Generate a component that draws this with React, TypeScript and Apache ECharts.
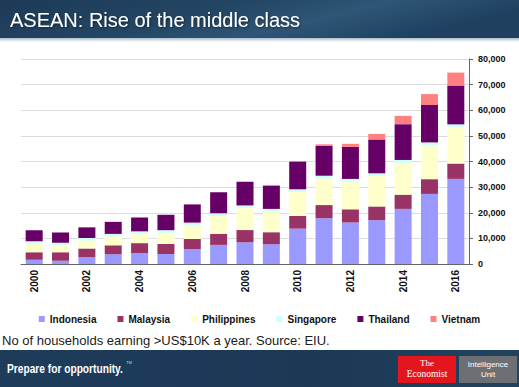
import React, { useEffect, useRef } from "react";
import * as echarts from "echarts";

const years = ["2000","2001","2002","2003","2004","2005","2006","2007","2008","2009","2010","2011","2012","2013","2014","2015","2016"];
const indonesia = [1700,1300,2650,3800,4250,3900,5800,7450,8450,7700,13800,17850,16200,17100,21500,27350,33200];
const malaysia = [2900,3300,3400,3500,3900,3950,3950,4300,4800,4700,5000,5150,5150,5350,5550,5750,6000];
const philippines = [3400,2800,3150,3500,3650,4350,5400,7000,8550,8050,9300,10400,10800,11900,12450,13300,14200];
const singapore = [900,900,950,950,950,1000,1000,1050,1050,1050,1050,1050,1050,1050,1100,1050,1100];
const thailand = [4300,3950,4150,4700,5400,6000,7100,8200,9250,9100,10800,11650,12500,13200,13950,14600,15150];
const vietnam = [0,0,0,0,0,0,0,0,0,0,0,600,1200,2150,3250,4250,5050];

const seriesNames = ["Indonesia","Malaysia","Philippines","Singapore","Thailand","Vietnam"];
const seriesData = [indonesia, malaysia, philippines, singapore, thailand, vietnam];
const seriesColors = ["#9999FF","#993366","#FFFFCC","#CCFFFF","#660066","#FF8080"];

const title = "ASEAN: Rise of the middle class";
const caption = "No of households earning >US$10K a year. Source: EIU.";
const tagline = "Prepare for opportunity.";

const FONT = "'Liberation Sans', Arial, sans-serif";

export default function App() {
  const ref = useRef<HTMLDivElement>(null);
  useEffect(() => {
    document.body.style.margin = "0";
    if (!ref.current) return;
    const chart = echarts.init(ref.current, undefined, { renderer: "svg" });
    chart.setOption({
      animation: false,
      backgroundColor: "#ffffff",
      grid: { left: 21, right: 50, top: 59, bottom: 123, containLabel: false },
      legend: {
        data: seriesNames,
        top: 309,
        left: "center",
        icon: "rect",
        itemWidth: 6,
        itemHeight: 6,
        itemGap: 21,
        textStyle: { fontFamily: FONT, fontSize: 10, fontWeight: "bold", color: "#111" },
      },
      xAxis: {
        type: "category",
        data: years,
        boundaryGap: true,
        axisLine: { lineStyle: { color: "#666", width: 1 } },
        axisTick: { interval: 1, length: 3, lineStyle: { color: "#666" } },
        axisLabel: {
          interval: 1,
          rotate: 90,
          margin: 6,
          fontFamily: FONT,
          fontSize: 10,
          fontWeight: "bold",
          color: "#111",
        },
      },
      yAxis: {
        type: "value",
        position: "right",
        min: 0,
        max: 80000,
        interval: 10000,
        axisLine: { show: true, lineStyle: { color: "#666", width: 1 } },
        axisTick: { show: true, length: 4, lineStyle: { color: "#666" } },
        splitLine: { lineStyle: { color: "#dcdcdc", width: 1 } },
        axisLabel: {
          margin: 9,
          fontFamily: FONT,
          fontSize: 9,
          fontWeight: "bold",
          color: "#111",
          formatter: (v: number) => v.toLocaleString("en-US"),
        },
      },
      series: seriesNames.map((name, i) => ({
        name,
        type: "bar",
        stack: "total",
        barWidth: 17,
        data: seriesData[i],
        itemStyle: { color: seriesColors[i] },
      })),
      graphic: [
        {
          type: "rect",
          shape: { x: 0, y: 0, width: 519, height: 38 },
          style: {
            fill: new echarts.graphic.LinearGradient(0, 0, 1, 0.3, [
              { offset: 0, color: "#1d3a57" },
              { offset: 0.45, color: "#234664" },
              { offset: 0.7, color: "#2f5677" },
              { offset: 1, color: "#1f405f" },
            ]),
          },
          z: 10,
        },
        {
          type: "rect",
          shape: { x: 0, y: 38, width: 519, height: 4 },
          style: {
            fill: new echarts.graphic.LinearGradient(0, 0, 0, 1, [
              { offset: 0, color: "#a9bccd" },
              { offset: 1, color: "#ffffff" },
            ]),
          },
          z: 10,
        },
        {
          type: "text",
          x: 10,
          y: 20,
          style: {
            text: title,
            fill: "#ffffff",
            font: `20px ${FONT}`,
            verticalAlign: "middle",
            textShadowColor: "rgba(0,0,0,0.5)",
            textShadowBlur: 2,
            textShadowOffsetX: 1,
            textShadowOffsetY: 1,
          },
          z: 11,
        },
        {
          type: "text",
          x: 2,
          y: 340,
          style: {
            text: caption,
            fill: "#1a1a1a",
            font: `13px ${FONT}`,
            verticalAlign: "middle",
          },
          z: 11,
        },
        {
          type: "rect",
          shape: { x: 0, y: 350, width: 519, height: 37 },
          style: {
            fill: new echarts.graphic.LinearGradient(0, 0, 1, 0, [
              { offset: 0, color: "#1e3d5b" },
              { offset: 0.6, color: "#1b3855" },
              { offset: 1, color: "#22435f" },
            ]),
          },
          z: 10,
        },
        {
          type: "text",
          x: 7,
          y: 369,
          scaleX: 0.85,
          style: {
            text: tagline,
            fill: "#ffffff",
            font: `bold 12px ${FONT}`,
            verticalAlign: "middle",
          },
          z: 11,
        },
        {
          type: "text",
          x: 126,
          y: 362,
          style: {
            text: "TM",
            fill: "#cfd8e0",
            font: `4px ${FONT}`,
            verticalAlign: "middle",
          },
          z: 11,
        },
        {
          type: "rect",
          shape: { x: 398, y: 356, width: 58, height: 27 },
          style: { fill: "#e3161d" },
          z: 11,
        },
        {
          type: "text",
          x: 427,
          y: 363,
          style: {
            text: "The",
            fill: "#ffffff",
            font: `9px 'Liberation Serif', 'DejaVu Serif', serif`,
            align: "center",
            verticalAlign: "middle",
          },
          z: 12,
        },
        {
          type: "text",
          x: 427,
          y: 374,
          style: {
            text: "Economist",
            fill: "#ffffff",
            font: `9.5px 'Liberation Serif', 'DejaVu Serif', serif`,
            align: "center",
            verticalAlign: "middle",
          },
          z: 12,
        },
        {
          type: "rect",
          shape: { x: 459, y: 356, width: 58, height: 27 },
          style: { fill: "#6c7074" },
          z: 11,
        },
        {
          type: "text",
          x: 488,
          y: 364,
          style: {
            text: "Intelligence",
            fill: "#ffffff",
            font: `8px ${FONT}`,
            align: "center",
            verticalAlign: "middle",
          },
          z: 12,
        },
        {
          type: "text",
          x: 488,
          y: 374,
          style: {
            text: "Unit",
            fill: "#ffffff",
            font: `8px ${FONT}`,
            align: "center",
            verticalAlign: "middle",
          },
          z: 12,
        },
      ],
    });
    return () => chart.dispose();
  }, []);
  return <div ref={ref} style={{ width: 519, height: 387 }} />;
}
